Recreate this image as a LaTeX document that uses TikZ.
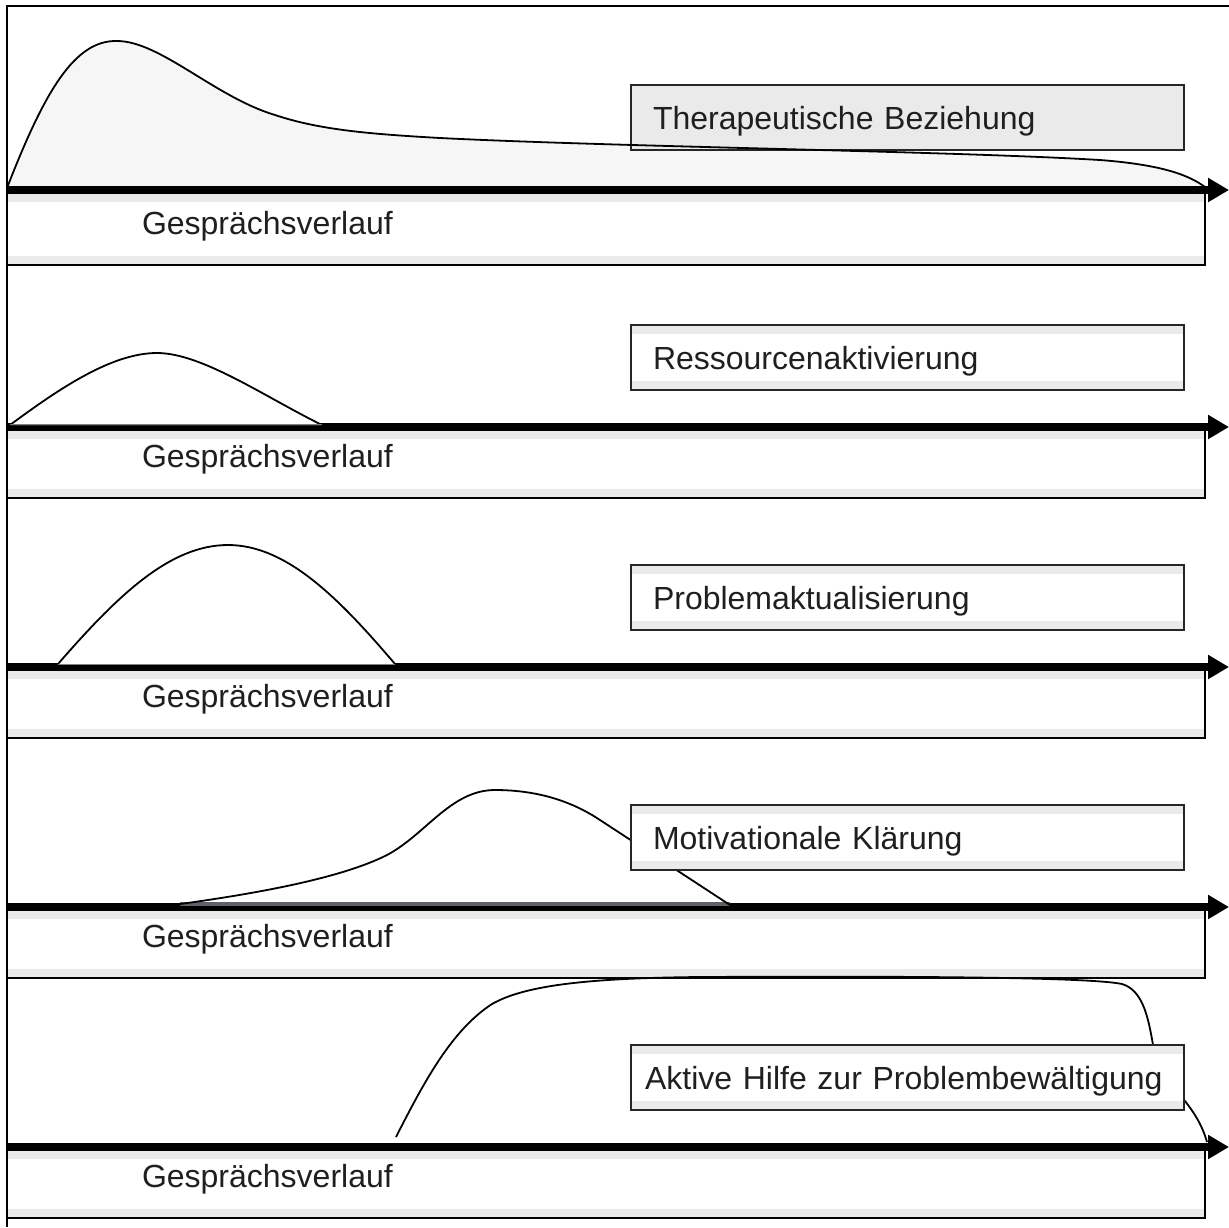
\documentclass[tikz,border=0pt]{standalone}
\usepackage{fontspec}
\setmainfont{Liberation Sans}
\usetikzlibrary{arrows.meta}
\definecolor{stripgray}{RGB}{234,234,234}
\definecolor{humpgray}{RGB}{246,246,246}
\definecolor{slategray}{RGB}{92,98,104}
\tikzset{
  strips/.style={path picture={
    \fill[stripgray] (path picture bounding box.north west) rectangle ([yshift=-4.5pt]path picture bounding box.north east);
    \fill[stripgray] ([yshift=4.5pt]path picture bounding box.south west) rectangle (path picture bounding box.south east);}},
  flowbox/.style={draw,line width=1pt,fill=white,strips,outer sep=0pt,anchor=north west,
    inner xsep=67.5pt,inner ysep=0pt,text width=464pt,align=left,
    text height=18.5pt,text depth=15.5pt,font=\fontsize{16}{19}\selectfont,text=black!88},
  tagbox/.style={draw=black!85,line width=1.1pt,fill=white,strips,outer sep=0pt,anchor=north west,
    inner xsep=11pt,inner ysep=0pt,text width=254.5pt,align=left,
    text height=22pt,text depth=10.5pt,font=\fontsize{16}{19}\selectfont,text=black!88},
  timeline/.style={line width=3.75pt,-{Triangle[length=10.5pt,width=11.5pt]}},
  hump/.style={line width=0.9pt,line join=round}
}
\begin{document}
\begin{tikzpicture}[x=0.5pt,y=-0.5pt]
\useasboundingbox (0,0) rectangle (1229,1227);
% frame
\draw[line width=1pt] (7,1227) -- (7,6) -- (1229,6);
% band 1
\fill[humpgray] (7,188) .. controls (45,90) and (75,40) .. (117,41) .. controls (160,41) and (215,97) .. (275,115)
  .. controls (320,130) and (370,134) .. (440,138) .. controls (620,147) and (950,151) .. (1100,160)
  .. controls (1165,165) and (1190,176) .. (1205,187) -- cycle;
\node[flowbox,text height=20.5pt,text depth=15.5pt] (verlauf1) at (7,193) {Gesprächsverlauf};
\node[tagbox,fill=stripgray,path picture={}] (tag1) at (631,85) {Therapeutische Beziehung};
\coordinate (s1) at (7,190); \coordinate (e1) at (1229,190);
\draw[timeline] (s1) -- (e1);
\draw[hump] (7,188) .. controls (45,90) and (75,40) .. (117,41) .. controls (160,41) and (215,97) .. (275,115)
  .. controls (320,130) and (370,134) .. (440,138) .. controls (620,147) and (950,151) .. (1100,160)
  .. controls (1165,165) and (1190,176) .. (1205,187);
% band 2
\node[flowbox] (verlauf2) at (7,430) {Gesprächsverlauf};
\node[tagbox] (tag2) at (631,325) {Ressourcenaktivierung};
\coordinate (s2) at (7,427); \coordinate (e2) at (1229,427);
\draw[timeline] (s2) -- (e2);
\filldraw[hump,fill=white] (10,425) .. controls (60,388) and (112,353) .. (157,353) .. controls (202,353) and (265,397) .. (322,425);
\draw[gray,line width=0.6pt] (10,424.5) -- (322,424.5);
% band 3
\node[flowbox] (verlauf3) at (7,670) {Gesprächsverlauf};
\node[tagbox] (tag3) at (631,565) {Problemaktualisierung};
\coordinate (s3) at (7,667); \coordinate (e3) at (1229,667);
\draw[timeline] (s3) -- (e3);
\filldraw[hump,fill=white] (58,664) .. controls (118,595) and (170,545) .. (228,545) .. controls (286,545) and (338,597) .. (395,664);
\draw[gray,line width=0.6pt] (58,664.5) -- (395,664.5);
% band 4
\node[flowbox] (verlauf4) at (7,910) {Gesprächsverlauf};
\coordinate (s4) at (7,907); \coordinate (e4) at (1229,907);
\draw[timeline] (s4) -- (e4);
\draw[slategray,line width=2pt] (180,904) -- (730,904);
\draw[hump] (180,904) .. controls (260,893) and (340,878) .. (385,856) .. controls (425,836) and (450,790) .. (495,790)
  .. controls (535,790) and (570,800) .. (600,820) -- (730,905);
\node[tagbox] (tag4) at (631,805) {Motivationale Klärung};
% band 5
\node[flowbox] (verlauf5) at (7,1150) {Gesprächsverlauf};
\coordinate (s5) at (7,1147); \coordinate (e5) at (1229,1147);
\draw[timeline] (s5) -- (e5);
\draw[hump] (396,1137) .. controls (425,1080) and (452,1030) .. (492,1004) .. controls (525,985) and (590,978) .. (700,977)
  .. controls (900,976) and (1090,977) .. (1122,984) .. controls (1142,990) and (1148,1015) .. (1153,1045)
  .. controls (1165,1090) and (1195,1100) .. (1207,1142);
\node[tagbox,inner xsep=7pt,text width=262.5pt] (tag5) at (631,1045) {Aktive Hilfe zur Problembewältigung};
\end{tikzpicture}
\end{document}
